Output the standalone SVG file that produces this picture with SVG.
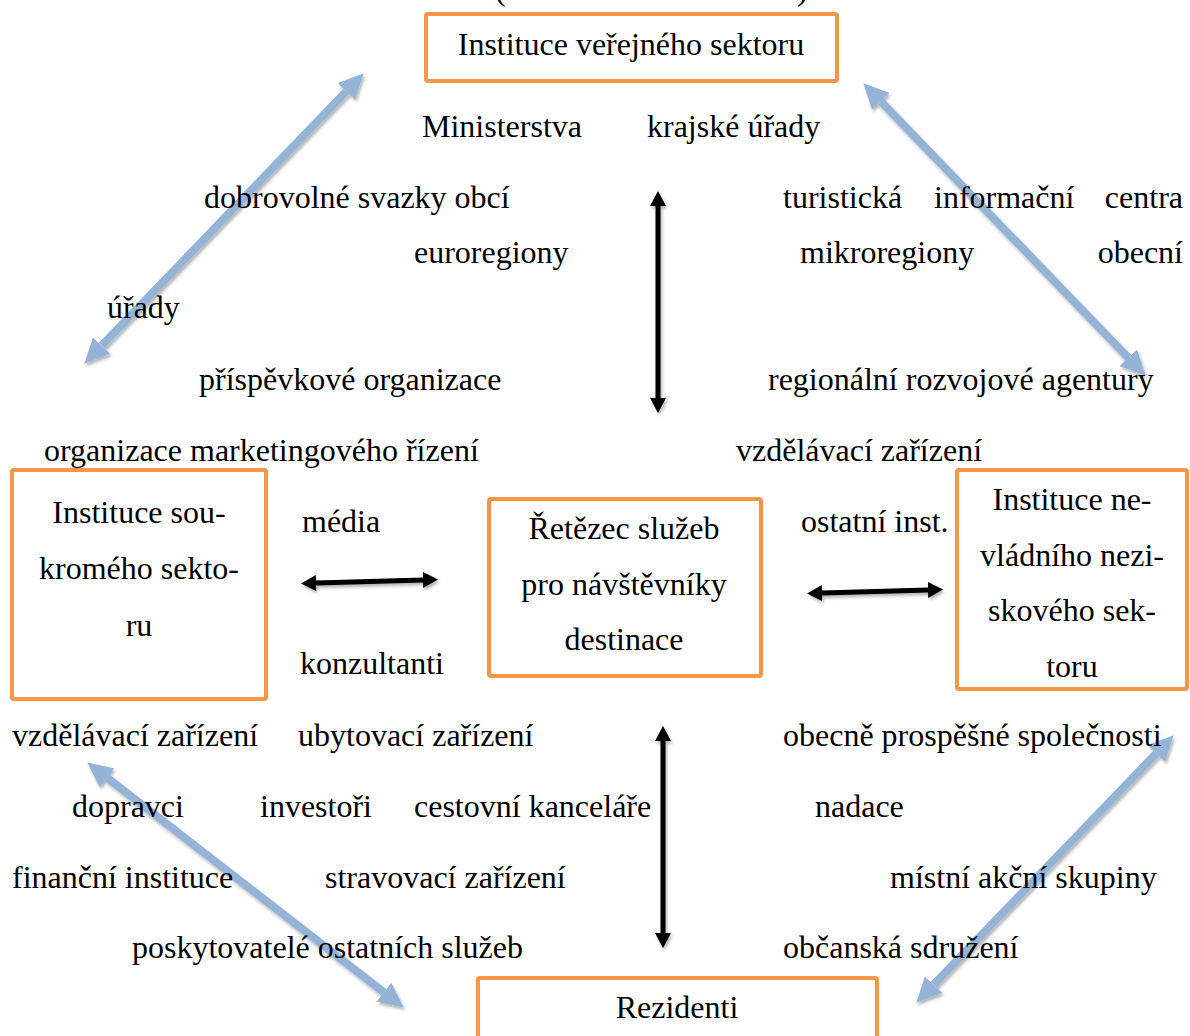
<svg xmlns="http://www.w3.org/2000/svg" width="1190" height="1036" viewBox="0 0 1190 1036">
<style>
text{font-family:"Liberation Serif","Times New Roman",serif;font-size:32px;fill:#000}
.c{text-anchor:middle}
.e{text-anchor:end}
.box{fill:#fff;stroke:#F79646;stroke-width:4}
.blue{stroke:#95B3D7;stroke-width:8;fill:none;marker-start:url(#bh);marker-end:url(#bh);filter:url(#sh)}
.blk{stroke:#000;stroke-width:5;fill:none;marker-start:url(#kh);marker-end:url(#kh);filter:url(#sh)}
</style>
<defs>
<filter id="sh" filterUnits="userSpaceOnUse" x="0" y="0" width="1190" height="1036">
<feDropShadow dx="1.5" dy="2.5" stdDeviation="1.5" flood-color="#000" flood-opacity="0.3"/>
</filter>
<marker id="bh" markerUnits="userSpaceOnUse" markerWidth="26" markerHeight="24" refX="0" refY="12" orient="auto-start-reverse" viewBox="0 0 26 24">
<path d="M0,0 L25,12 L0,24 Z" fill="#95B3D7"/>
</marker>
<marker id="kh" markerUnits="userSpaceOnUse" markerWidth="15" markerHeight="16" refX="0" refY="8" orient="auto-start-reverse" viewBox="0 0 15 16">
<path d="M0,0 L15,8 L0,16 Z" fill="#000"/>
</marker>
</defs>
<g id="connectors">
<path class="blue" d="M346.4,91.3 L101.6,345.7"/>
<path class="blue" d="M880.7,101.3 L1128.3,357.7"/>
<path class="blue" d="M107,777.7 L384,992.3"/>
<path class="blue" d="M1156.4,753.3 L933.6,984.7"/>
<path class="blk" d="M316,583 L423,580"/>
<path class="blk" d="M822,593 L928,590"/>
<path class="blk" d="M658,206 L658,398"/>
<path class="blk" d="M663,741 L663,933"/>
</g>
<text x="495" y="0">(</text>
<text x="797" y="0">)</text>
<g id="labels">
<text x="422" y="137">Ministerstva</text>
<text x="647" y="137">krajské úřady</text>
<text x="204" y="208">dobrovolné svazky obcí</text>
<text x="783" y="208">turistická</text>
<text x="934" y="208">informační</text>
<text class="e" x="1183" y="208">centra</text>
<text x="414" y="263">euroregiony</text>
<text x="800" y="263">mikroregiony</text>
<text class="e" x="1183" y="263">obecní</text>
<text x="107" y="318">úřady</text>
<text x="199" y="390">příspěvkové organizace</text>
<text x="768" y="390">regionální rozvojové agentury</text>
<text x="44" y="461">organizace marketingového řízení</text>
<text x="736" y="461">vzdělávací zařízení</text>
<text x="302" y="532">média</text>
<text x="801" y="532">ostatní inst.</text>
<text x="300" y="674">konzultanti</text>
<text x="12" y="746">vzdělávací zařízení</text>
<text x="298" y="746">ubytovací zařízení</text>
<text x="783" y="746">obecně prospěšné společnosti</text>
<text x="72" y="817">dopravci</text>
<text x="260" y="817">investoři</text>
<text x="414" y="817">cestovní kanceláře</text>
<text x="815" y="817">nadace</text>
<text x="12" y="888">finanční instituce</text>
<text x="325" y="888">stravovací zařízení</text>
<text x="890" y="888">místní akční skupiny</text>
<text x="132" y="958">poskytovatelé ostatních služeb</text>
<text x="783" y="958">občanská sdružení</text>
</g>
<g id="node-public">
<rect class="box" x="426" y="14" width="411" height="67" rx="2"/>
<text class="c" x="631" y="55">Instituce veřejného sektoru</text>
</g>
<g id="node-private">
<rect class="box" x="12" y="470" width="254" height="229" rx="2"/>
<text class="c" x="139" y="523">Instituce sou-</text>
<text class="c" x="139" y="579">kromého sekto-</text>
<text class="c" x="139" y="636">ru</text>
</g>
<g id="node-chain">
<rect class="box" x="489" y="499" width="272" height="177" rx="2"/>
<text class="c" x="624" y="539">Řetězec služeb</text>
<text class="c" x="624" y="595">pro návštěvníky</text>
<text class="c" x="624" y="650">destinace</text>
</g>
<g id="node-ngo">
<rect class="box" x="957" y="470" width="230" height="219" rx="2"/>
<text class="c" x="1072" y="510">Instituce ne-</text>
<text class="c" x="1072" y="566">vládního nezi-</text>
<text class="c" x="1072" y="621">skového sek-</text>
<text class="c" x="1072" y="677">toru</text>
</g>
<g id="node-residents">
<rect class="box" x="478" y="978" width="399" height="70" rx="2"/>
<text class="c" x="677" y="1018">Rezidenti</text>
</g>
</svg>
